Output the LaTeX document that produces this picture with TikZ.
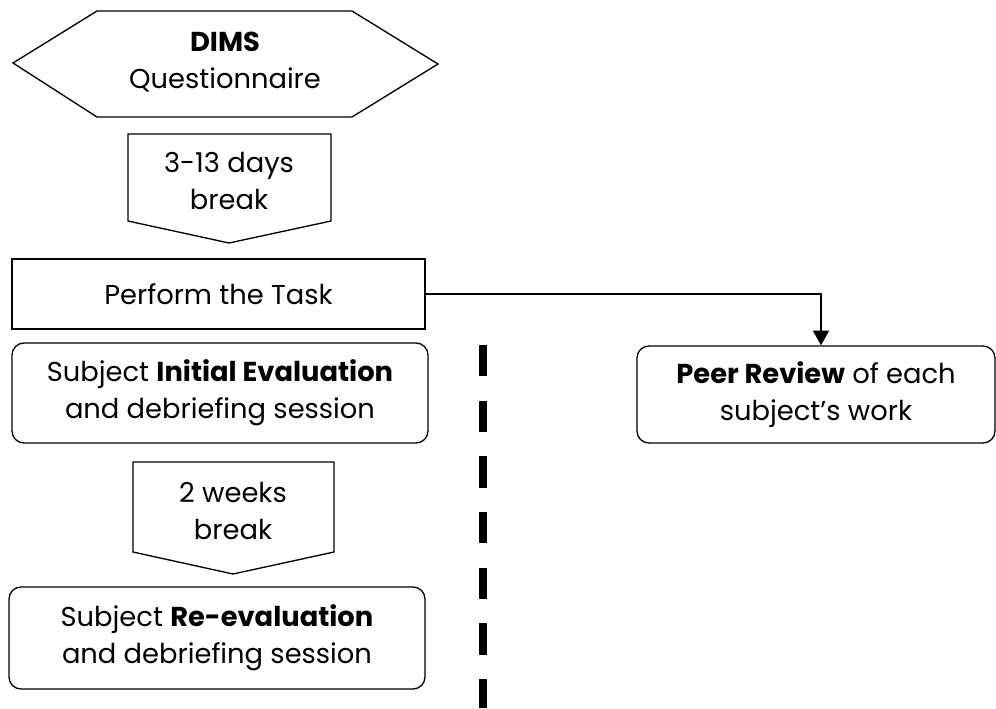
\documentclass[tikz,border=0pt]{standalone}
\usepackage{fontspec}
\setmainfont{Poppins}
\usetikzlibrary{arrows.meta,calc}

\begin{document}
\begin{tikzpicture}[x=0.75pt,y=-0.75pt]
                % define styles
\tikzset{stage/.style={draw=black,
                       line width=1pt,
                       align=center,
                       inner sep=0,
                       },
         roundstage/.style={stage,
                       rounded corners=9pt,
                       },
         breakarrow/.style={draw=black,
                       line width=1pt,
                       },
         txt/.style={align=center,
                       font=\fontsize{20.5}{27.75}\selectfont,
                       }
}

\useasboundingbox (0,0) rectangle (996,708);

% questionnaire hexagon
\draw[breakarrow] (13,63) -- (97,11) -- (352,11) -- (438,64) -- (352,117) -- (97,117) -- cycle;
\node[txt] (dims) at (225,62) {\textbf{DIMS}\\Questionnaire};

% break arrows
\draw[breakarrow] (128,134) -- (331,134) -- (331,221) -- (229,243) -- (128,221) -- cycle;
\node[txt] (brk1) at (229,181) {3-13 days\\break};
\draw[breakarrow] (133,462) -- (334,462) -- (334,552) -- (233,574) -- (133,552) -- cycle;
\node[txt] (brk2) at (233,511) {2 weeks\\break};

% nodes
\node[stage,txt,minimum width=309.75pt,minimum height=52.5pt]
    (task) at (218.5,294) {Perform the Task};
\node[roundstage,txt,minimum width=312pt,minimum height=75pt]
    (init) at (220,393) {Subject \textbf{Initial Evaluation}\\and debriefing session};
\node[roundstage,txt,minimum width=312pt,minimum height=76.5pt]
    (reeval) at (217,638) {Subject \textbf{Re-evaluation}\\and debriefing session};
\node[roundstage,txt,minimum width=268.5pt,minimum height=72.75pt]
    (peer) at (816,394.5) {\textbf{Peer Review} of each\\subject’s work};

% arrow to peer review
\draw[line width=1pt,-{Triangle[width=12pt,length=11pt]}]
    (task.east) -| ([xshift=3.75pt]peer.north);

% separator
\coordinate (septop) at (483,345);
\coordinate (sepbot) at (483,708);
\draw[line width=6.5pt,dash pattern=on 23.5pt off 18.25pt] (septop) -- (sepbot);

\end{tikzpicture}
\end{document}
